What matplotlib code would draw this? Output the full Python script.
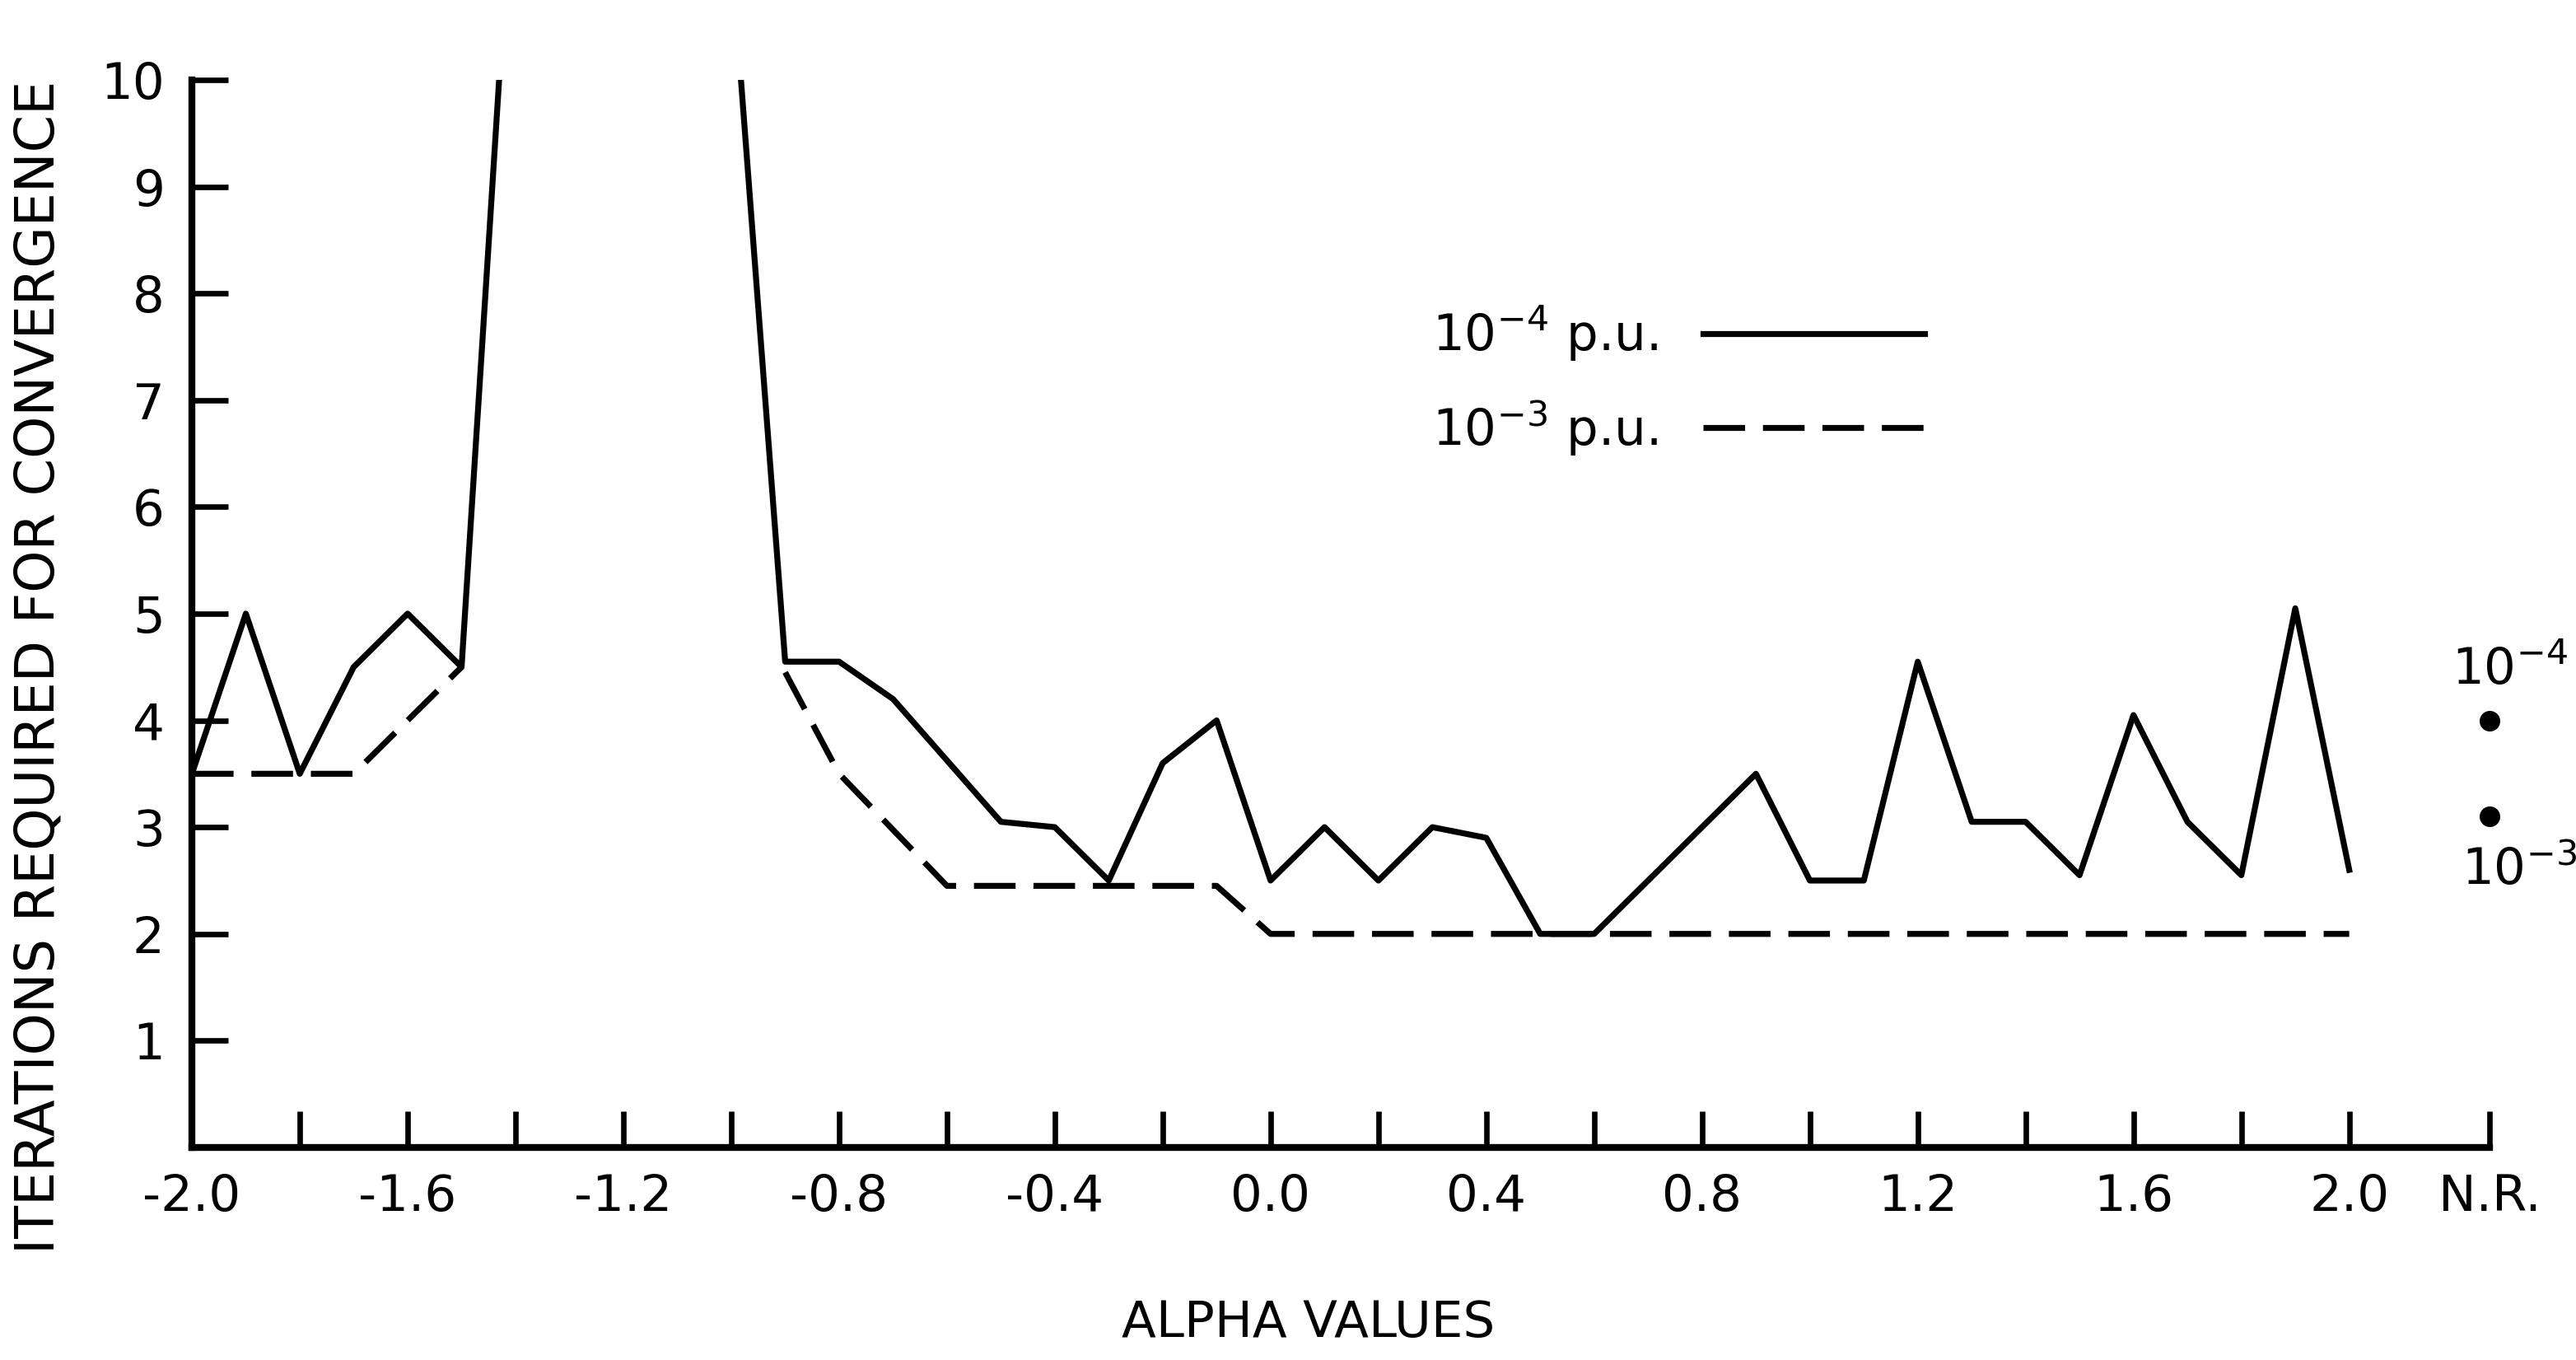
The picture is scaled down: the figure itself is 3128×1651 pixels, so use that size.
import numpy as np
import matplotlib.pyplot as plt
from matplotlib.lines import Line2D

plt.rcParams['font.family'] = ['DejaVu Sans']
plt.rcParams['mathtext.fontset'] = 'dejavusans'

# iterations needed for each alpha, tolerance 1e-4 p.u. (solid)
# values above 10 mean the run went off scale; nan breaks the curve
alpha_1e4 = [-2.0, -1.9, -1.8, -1.7, -1.6, -1.5, -1.4, -1.2, -1.0, -0.9,
             -0.8, -0.7, -0.5, -0.4, -0.3, -0.2, -0.1, 0.0, 0.1, 0.2,
             0.3, 0.4, 0.5, 0.6, 0.9, 1.0, 1.1, 1.2, 1.3, 1.4,
             1.5, 1.6, 1.7, 1.8, 1.9, 2.0]
iters_1e4 = [3.5, 5.0, 3.5, 4.5, 5.0, 4.5, 12.4, np.nan, 11.2, 4.55,
             4.55, 4.2, 3.05, 3.0, 2.5, 3.6, 4.0, 2.5, 3.0, 2.5,
             3.0, 2.9, 2.0, 2.0, 3.5, 2.5, 2.5, 4.55, 3.05, 3.05,
             2.55, 4.05, 3.05, 2.55, 5.05, 2.6]

# tolerance 1e-3 p.u. (dashed)
alpha_1e3 = [-2.0, -1.7, -1.5, -1.2, -0.9, -0.8, -0.6, -0.1, 0.0, 2.0]
iters_1e3 = [3.5, 3.5, 4.5, np.nan, 4.45, 3.5, 2.45, 2.45, 2.0, 2.0]

# Newton-Raphson reference points, drawn past alpha = 2.0
nr_pos = 2.26
nr_iters = [4.0, 3.1]
nr_tags = [r'$10^{-4}$', r'$10^{-3}$']

xticks = [round(v, 1) + 0.0 for v in np.arange(-2.0, 2.01, 0.2)] + [nr_pos]
xticklabels = ['%.1f' % abs(v) if abs(v) < 1e-9 else '%.1f' % v for v in xticks[:-1]]
xticklabels = [s if i % 2 == 0 else '' for i, s in enumerate(xticklabels)] + ['N.R.']
yticks = list(range(1, 11))

fig = plt.figure(figsize=(15.64, 8.255), dpi=200)
ax = fig.add_axes([0.0745, 0.1563, 0.8919, 0.7850])

lw = 2.6
ax.plot(alpha_1e4, iters_1e4, color='black', lw=lw, solid_joinstyle='round')
ax.plot(alpha_1e3, iters_1e3, color='black', lw=lw, dashes=(7.0, 3.0))
ax.plot([nr_pos] * len(nr_iters), nr_iters, 'o', color='black', ms=8, clip_on=False)

# small tolerance tags above / below the two N.R. dots
ax.annotate(nr_tags[0], xy=(nr_pos, nr_iters[0]), xytext=(9, 11),
            textcoords='offset points', ha='center', va='bottom',
            fontsize=22, annotation_clip=False)
ax.annotate(nr_tags[1], xy=(nr_pos, nr_iters[1]), xytext=(13, -13),
            textcoords='offset points', ha='center', va='top',
            fontsize=22, annotation_clip=False)

ax.set_xlim(-2.0, nr_pos)
ax.set_ylim(0, 10)

for side in ['top', 'right']:
    ax.spines[side].set_visible(False)
for side in ['left', 'bottom']:
    ax.spines[side].set_linewidth(3.0)

ax.set_xticks(xticks)
ax.set_xticklabels(xticklabels)
ax.set_yticks(yticks)
ax.tick_params(direction='in', length=16, width=2.4, labelsize=22)
ax.tick_params(axis='x', pad=11)
ax.tick_params(axis='y', pad=12)

ax.set_xlabel('ALPHA VALUES', fontsize=22, labelpad=34)
ax.xaxis.label.set_x(0.486)
ax.set_ylabel('ITERATIONS REQUIRED FOR CONVERGENCE', fontsize=23.5)
ax.yaxis.set_label_coords(-0.055, 0.45)

handles = [Line2D([], [], color='black', lw=lw),
           Line2D([], [], color='black', lw=lw, dashes=(7.0, 3.0))]
ax.legend(handles, [r'$10^{-4}$ p.u.', r'$10^{-3}$ p.u.'],
          loc='center left', bbox_to_anchor=(0.556, 0.7196),
          bbox_transform=fig.transFigure, frameon=False, fontsize=22,
          markerfirst=False, handlelength=4.4, handletextpad=0.9,
          labelspacing=0.7, borderpad=0, borderaxespad=0)

fig.savefig('out.png', dpi=200)
